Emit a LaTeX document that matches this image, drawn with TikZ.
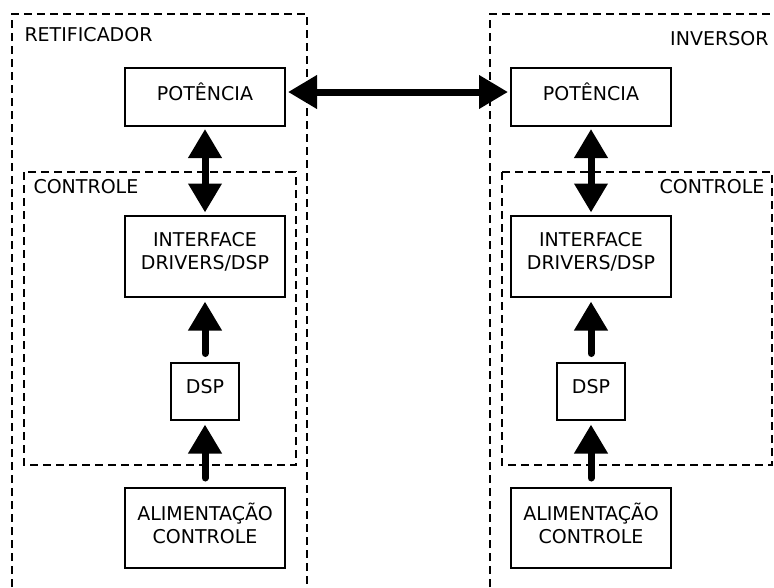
\documentclass[tikz,border=0pt]{standalone}
\usepackage{fontspec}
\setmainfont{DejaVu Sans}
\usetikzlibrary{arrows.meta}

\tikzset{
  bloco/.style={draw, line width=2pt, align=center, minimum width=160pt, text depth=10pt},
  grupo/.style={line width=2pt, dash pattern=on 8pt off 5pt},
  seta/.style={line width=7pt, line cap=round, -{Triangle[length=29pt,width=32pt]}},
  setadupla/.style={line width=7pt, {Triangle[length=29pt,width=32pt]}-{Triangle[length=29pt,width=32pt]}}
}

\begin{document}
\begin{tikzpicture}[x=1pt, y=-1pt, font=\fontsize{19}{23}\selectfont]
    \useasboundingbox (0,0) rectangle (774,587);
    % retificador
    \draw[grupo] (12,587) -- (12,14) -- (307,14) -- (307,587);
    \draw[grupo] (24,172) rectangle (296,465);
    \node[anchor=west] (retif) at (21,35) {RETIFICADOR};
    \node[anchor=west] (contL) at (30,187) {CONTROLE};
    \node[bloco, minimum height=58pt] (potL) at (205,97) {POTÊNCIA};
    \node[bloco, minimum height=81pt] (intL) at (205,256) {INTERFACE\\DRIVERS/DSP};
    \node[bloco, minimum width=68pt, minimum height=57pt] (dspL) at (205,391) {DSP};
    \node[bloco, minimum height=80pt] (alimL) at (205,528) {ALIMENTAÇÃO\\CONTROLE};
    % inversor
    \draw[grupo] (490,587) -- (490,14) -- (778,14);
    \draw[grupo] (502,172) rectangle (772,465);
    \node[anchor=east] (inv) at (772,39) {INVERSOR};
    \node[anchor=east] (contR) at (768,187) {CONTROLE};
    \node[bloco, minimum height=58pt] (potR) at (591,97) {POTÊNCIA};
    \node[bloco, minimum height=81pt] (intR) at (591,256) {INTERFACE\\DRIVERS/DSP};
    \node[bloco, minimum width=68pt, minimum height=57pt] (dspR) at (591,391) {DSP};
    \node[bloco, minimum height=80pt] (alimR) at (591,528) {ALIMENTAÇÃO\\CONTROLE};
    % setas
    \draw[setadupla, shorten <=2pt, shorten >=2pt] ([yshift=5pt]potL.east) -- ([yshift=5pt]potR.west);
    \foreach \s in {L,R} {
      \draw[setadupla, shorten <=2pt, shorten >=2pt] (pot\s) -- (int\s);
      \draw[seta, shorten <=8pt, shorten >=4pt] (dsp\s) -- (int\s);
      \draw[seta, shorten <=9pt, shorten >=4pt] (alim\s) -- (dsp\s);
    }
\end{tikzpicture}
\end{document}
